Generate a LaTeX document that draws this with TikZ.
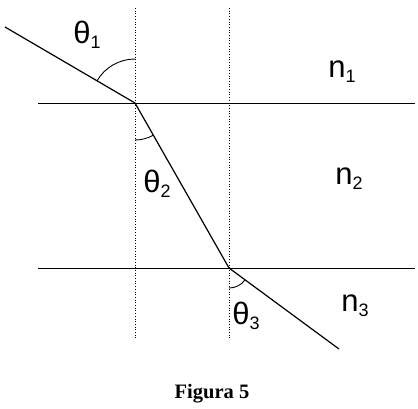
\documentclass[tikz,border=0pt]{standalone}
\usepackage{fontspec}
\setmainfont{Liberation Sans}
\newfontfamily\capfont{Liberation Serif}
\newcommand{\lbl}[2]{{\fontsize{31}{31}\selectfont #1\raisebox{-5pt}{\fontsize{18}{18}\selectfont #2}}}
\begin{document}
\begin{tikzpicture}[x=1pt,y=-1pt,
  ray/.style={line width=1.2pt},
  iface/.style={line width=0.9pt},
  normal/.style={line width=0.7pt,dotted},
  angarc/.style={line width=0.9pt},
  lab/.style={inner sep=0pt,anchor=center}]
\useasboundingbox (0,0) rectangle (418,408);
\fill[white] (0,0) rectangle (418,408);
% points
\coordinate (start) at (5,27);
\coordinate (P1) at (135,103);
\coordinate (P2) at (229,268);
\coordinate (end) at (339,349);
\coordinate (L1a) at (38,103);
\coordinate (L1b) at (415,103);
\coordinate (L2a) at (38,268);
\coordinate (L2b) at (415,268);
\coordinate (N1t) at (135,8);
\coordinate (N1b) at (135,338);
\coordinate (N2t) at (229,8);
\coordinate (N2b) at (229,338);
% interfaces
\draw[iface] (L1a) -- (L1b);
\draw[iface] (L2a) -- (L2b);
% normals
\draw[normal] (N1t) -- (N1b);
\draw[normal] (N2t) -- (N2b);
% rays
\draw[ray] (start) -- (P1) -- (P2) -- (end);
% angle arcs (y axis flipped: angles measured clockwise from +x)
\draw[angarc] ([shift={(270:44)}]P1) arc[start angle=270,end angle=210.3,radius=44];
\draw[angarc] ([shift={(90:37)}]P1) arc[start angle=90,end angle=60.3,radius=37];
\draw[angarc] ([shift={(90:20)}]P2) arc[start angle=90,end angle=36.4,radius=20];
% labels
\node[lab] (t1) at (87,35) {\lbl{θ}{1}};
\node[lab] (t2) at (157,184) {\lbl{θ}{2}};
\node[lab] (t3) at (246,316) {\lbl{θ}{3}};
\node[lab] (n1) at (342,72) {\lbl{n}{1}};
\node[lab] (n2) at (349,179) {\lbl{n}{2}};
\node[lab] (n3) at (355,306) {\lbl{n}{3}};
\node[lab] (cap) at (212,394) {\capfont\bfseries\fontsize{20.5}{20.5}\selectfont Figura 5};
\end{tikzpicture}
\end{document}
